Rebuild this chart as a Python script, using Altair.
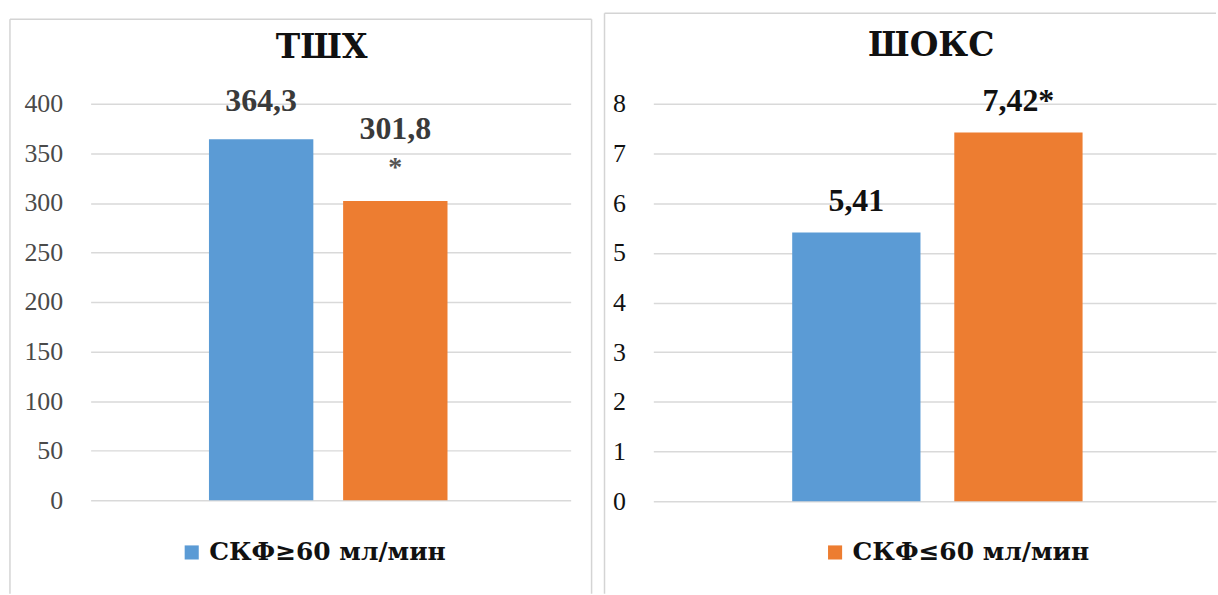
import altair as alt
import pandas as pd

# --- data -----------------------------------------------------------------
groups = ["СКФ≥60 мл/мин", "СКФ≤60 мл/мин"]
bar_colors = ["#5B9BD5", "#ED7D31"]

tshx_values = [364.3, 301.8]      # ТШХ, m
tshx_marks = ["", "*"]            # significance marker
shoks_values = [5.41, 7.42]       # ШОКС, points
shoks_marks = ["", "*"]

tshx_ticks = [0, 50, 100, 150, 200, 250, 300, 350, 400]
shoks_ticks = [0, 1, 2, 3, 4, 5, 6, 7, 8]

SERIF = "Liberation Serif"        # numbers
CYR_SERIF = "DejaVu Serif"        # Cyrillic headings and legend
GRID = "#D9D9D9"
FRAME = "#D4D4D4"


def fmt(v, digits):
    return f"{v:.{digits}f}".replace(".", ",")


tshx = pd.DataFrame({
    "group": groups,
    "value": tshx_values,
    "label": [fmt(v, 1) for v in tshx_values],
    "mark": tshx_marks,
})
shoks = pd.DataFrame({
    "group": groups,
    "value": shoks_values,
    "label": [fmt(v, 2) + m for v, m in zip(shoks_values, shoks_marks)],
})


def frame(x0, x1, y0, y1, right_edge=True):
    """Light panel frame drawn around the plot, title and legend."""
    one = pd.DataFrame({"k": [0]})
    base = alt.Chart(one).mark_rule(color=FRAME, strokeWidth=1.5)
    parts = [
        base.encode(x=alt.value(x0), y=alt.value(y0), y2=alt.value(y1)),
        base.encode(x=alt.value(x0), x2=alt.value(x1), y=alt.value(y0)),
    ]
    if right_edge:
        parts.append(base.encode(x=alt.value(x1), y=alt.value(y0), y2=alt.value(y1)))
    return parts


def heading(text, x, y):
    return alt.Chart(pd.DataFrame({"t": [text]})).mark_text(
        font=CYR_SERIF, fontSize=33, fontWeight="bold", color="#111111",
        align="center", baseline="middle",
    ).encode(text="t:N", x=alt.value(x), y=alt.value(y))


def panel(df, ticks, ymax, pad_inner, pad_outer, align,
          legend_value, legend_x, legend_y, axis_color):
    x = alt.X("group:N", sort=groups, axis=None,
              scale=alt.Scale(paddingInner=pad_inner, paddingOuter=pad_outer, align=align))
    y = alt.Y("value:Q",
              scale=alt.Scale(domain=[0, ymax], nice=False, zero=True),
              axis=alt.Axis(values=ticks, title=None, domain=False, ticks=False,
                            grid=True, gridColor=GRID, gridWidth=1.5,
                            labelFont=SERIF, labelFontSize=26, labelColor=axis_color,
                            labelPadding=28))
    base = alt.Chart(df).encode(x=x, y=y)
    bars = base.mark_bar().encode(
        color=alt.Color(
            "group:N",
            scale=alt.Scale(domain=groups, range=bar_colors),
            legend=alt.Legend(
                values=[legend_value], title=None, orient="none",
                legendX=legend_x, legendY=legend_y,
                symbolType="square", symbolSize=200, symbolStrokeWidth=0,
                labelFont=CYR_SERIF, labelFontSize=25, labelFontWeight="bold",
                labelColor="#111111", labelOffset=5, padding=0, labelLimit=400,
            ),
        )
    )
    return base, bars


# --- left panel: ТШХ --------------------------------------------------------
L_W, L_H = 482, 398
l_base, l_bars = panel(tshx, tshx_ticks, 400, 0.222, 0.9, 0.49,
                       groups[0], 89, 438, "#4A4A4A")
label_style = dict(font=SERIF, fontSize=32, fontWeight="bold",
                   color="#3A3A3A", baseline="middle")
l_value_plain = l_base.transform_filter("datum.mark == ''").mark_text(
    dy=-38, **label_style).encode(text="label:N")
l_value_marked = l_base.transform_filter("datum.mark != ''").mark_text(
    dy=-72, **label_style).encode(text="label:N")
l_star = l_base.transform_filter("datum.mark != ''").mark_text(
    font=SERIF, fontSize=28, fontWeight="bold", color="#555555",
    baseline="middle", dy=-33).encode(text="mark:N")

left = alt.layer(
    *frame(-81, 503, -85, 492),
    l_bars, l_value_plain, l_value_marked, l_star,
    heading("ТШХ", 232, -56),
).properties(width=L_W, height=L_H)

# --- right panel: ШОКС -------------------------------------------------------
R_W, R_H = 565, 399
r_base, r_bars = panel(shoks, shoks_ticks, 8, 0.2086, 0.84, 0.51,
                       groups[1], 170, 438, "#111111")
r_values = r_base.mark_text(font=SERIF, fontSize=32, fontWeight="bold",
                            color="#111111", baseline="middle", dy=-32
                            ).encode(text="label:N")

right = alt.layer(
    *frame(-49, R_W, -91, 492, right_edge=False),
    r_bars, r_values,
    heading("ШОКС", 279, -58),
).properties(width=R_W, height=R_H)

chart = (
    alt.hconcat(left, right, spacing=9)
    .resolve_scale(color="independent", x="independent", y="independent")
    .properties(padding={"left": 8, "top": 10, "right": 0, "bottom": 0},
                background="white")
    .configure_view(stroke="transparent")
)

chart.save("out.html", embed_options={"renderer": "svg", "actions": False})
